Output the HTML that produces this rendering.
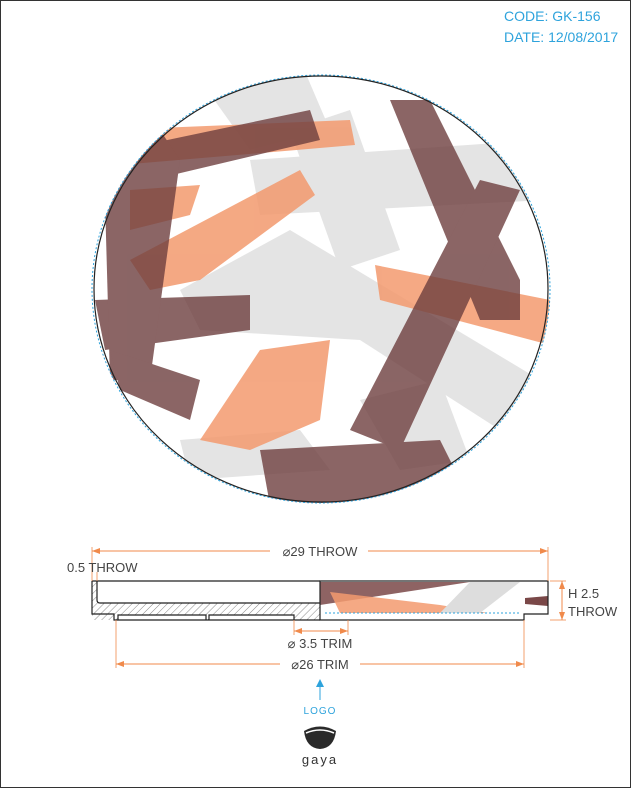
<!DOCTYPE html>
<html><head><meta charset="utf-8"><style>
html,body{margin:0;padding:0;background:#fff}
svg{display:block;font-family:"Liberation Sans",sans-serif}
</style></head><body>
<svg width="631" height="788" viewBox="0 0 631 788">
<defs>
<clipPath id="disc"><ellipse cx="321" cy="289" rx="229" ry="214"/></clipPath>
<clipPath id="sec"><rect x="320" y="582" width="228" height="31"/></clipPath>
<pattern id="hatch" width="5" height="5" patternUnits="userSpaceOnUse" patternTransform="rotate(45)"><line x1="0" y1="0" x2="0" y2="5" stroke="#555" stroke-width="0.7"/></pattern>
</defs>
<rect x="0.5" y="0.5" width="630" height="787" fill="#fff" stroke="#333"/>
<text x="504" y="21" font-size="14" fill="#2ea3dc">CODE: GK-156</text>
<text x="504" y="42" font-size="14" fill="#2ea3dc">DATE: 12/08/2017</text>

<g clip-path="url(#disc)">
<g fill="#d9d9d9" opacity="0.7">
<polygon points="200,80 300,60 330,130 250,150"/>
<polygon points="250,160 540,140 545,200 260,215"/>
<polygon points="180,290 290,230 540,380 500,430 360,340 200,330"/>
<polygon points="290,130 350,110 400,250 340,270"/>
<polygon points="180,440 300,430 330,470 190,480"/>
<polygon points="360,400 440,380 470,460 400,470"/>
</g>
<g fill="#f39a6e" opacity="0.85">
<polygon points="110,130 350,120 355,145 120,165"/>
<polygon points="130,260 300,170 315,195 200,280 150,290"/>
<polygon points="375,265 550,300 550,345 380,300"/>
<polygon points="200,440 260,350 330,340 320,420 250,450"/>
<polygon points="130,190 200,185 190,215 130,230"/>
</g>
<g fill="#6e3f3f" opacity="0.8">
<polygon points="120,150 310,110 320,140 130,185"/>
<polygon points="95,300 250,295 250,330 105,350"/>
<polygon points="105,200 160,130 180,160 150,380 110,380"/>
<polygon points="390,100 430,100 520,280 520,320 480,320"/>
<polygon points="350,430 480,180 520,190 400,450"/>
<polygon points="260,450 440,440 470,500 270,505"/>
<polygon points="110,350 200,380 190,420 120,390"/>
</g>
</g>
<ellipse cx="321" cy="289" rx="229" ry="214" fill="none" stroke="#2ea3dc" stroke-width="1" stroke-dasharray="2,2"/>
<ellipse cx="321" cy="289" rx="227" ry="213" fill="none" stroke="#222" stroke-width="1.2"/>

<g>
<path d="M92,581 L320,581 L320,620 L92,620 Z" fill="url(#hatch)"/>
<path d="M97,581 L320,581 L320,603 L100,603 Q97,603 97,600 Z" fill="#fff"/>
<rect x="118" y="615" width="88" height="6" fill="#fff"/>
<rect x="209" y="615" width="85" height="6" fill="#fff"/>
<path d="M92,581 L320,581 M92,581 L92,614 L114,614 L114,620 L320,620 M97,581 L97,600 Q97,603 100,603 L320,603 M118,620 L118,615 L206,615 L206,620 M209,620 L209,615 L294,615 L294,620" fill="none" stroke="#222" stroke-width="1.2"/>
<g clip-path="url(#sec)">
<polygon points="320,582 470,582 320,605" fill="#7a4848" opacity="0.85"/>
<polygon points="330,592 440,605 500,615 340,613" fill="#f39a6e" opacity="0.85"/>
<polygon points="470,582 520,582 480,613 440,613" fill="#ddd"/>
<polygon points="525,598 548,596 548,606 525,604" fill="#7a4848"/>
</g>
<path d="M320,581 L548,581 L548,614 L524,614 L524,620 L320,620 Z M320,581 L320,620" fill="none" stroke="#222" stroke-width="1.2"/>
<line x1="325" y1="613" x2="520" y2="613" stroke="#2ea3dc" stroke-dasharray="2,2"/>
</g>

<g stroke="#f08a4b" fill="#f08a4b" font-size="13">
<line x1="92" y1="547" x2="92" y2="581" stroke-width="0.8"/><line x1="548" y1="547" x2="548" y2="581" stroke-width="0.8"/>
<line x1="92" y1="551" x2="270" y2="551"/><line x1="368" y1="551" x2="548" y2="551"/>
<polygon points="92,551 100,548 100,554" stroke="none"/><polygon points="548,551 540,548 540,554" stroke="none"/>
<line x1="97" y1="572" x2="97" y2="581" stroke-width="0.8"/>
<line x1="550" y1="581" x2="566" y2="581" stroke-width="0.8"/><line x1="550" y1="620" x2="566" y2="620" stroke-width="0.8"/>
<line x1="562" y1="581" x2="562" y2="620"/>
<polygon points="562,581 559,589 565,589" stroke="none"/><polygon points="562,620 559,612 565,612" stroke="none"/>
<line x1="294" y1="620" x2="294" y2="635" stroke-width="0.8"/><line x1="348" y1="620" x2="348" y2="635" stroke-width="0.8"/>
<line x1="294" y1="631" x2="348" y2="631"/>
<polygon points="294,631 302,628 302,634" stroke="none"/><polygon points="348,631 340,628 340,634" stroke="none"/>
<line x1="116" y1="620" x2="116" y2="668" stroke-width="0.8"/><line x1="524" y1="620" x2="524" y2="668" stroke-width="0.8"/>
<line x1="116" y1="664" x2="280" y2="664"/><line x1="360" y1="664" x2="524" y2="664"/>
<polygon points="116,664 124,661 124,667" stroke="none"/><polygon points="524,664 516,661 516,667" stroke="none"/>
</g>
<g font-size="13" fill="#444">
<text x="320" y="556" text-anchor="middle">⌀29 THROW</text>
<text x="67" y="572">0.5 THROW</text>
<text x="568" y="598">H 2.5</text>
<text x="568" y="616">THROW</text>
<text x="320" y="648" text-anchor="middle">⌀ 3.5 TRIM</text>
<text x="320" y="669" text-anchor="middle">⌀26 TRIM</text>
</g>
<g>
<line x1="320" y1="684" x2="320" y2="700" stroke="#2ea3dc"/>
<polygon points="320,679 316,687 324,687" fill="#2ea3dc"/>
<text x="320" y="714" font-size="10" fill="#2ea3dc" text-anchor="middle" letter-spacing="1">LOGO</text>
</g>
<g>
<path d="M304,731 Q320,722 336,731 Q334,748 320,749 Q306,748 304,731 Z" fill="#2a2a2a"/>
<path d="M306,733 Q320,727 334,733" stroke="#fff" stroke-width="1.5" fill="none"/>
<text x="320" y="764" font-size="13" fill="#333" text-anchor="middle" letter-spacing="2">gaya</text>
</g>
</svg>
</body></html>
